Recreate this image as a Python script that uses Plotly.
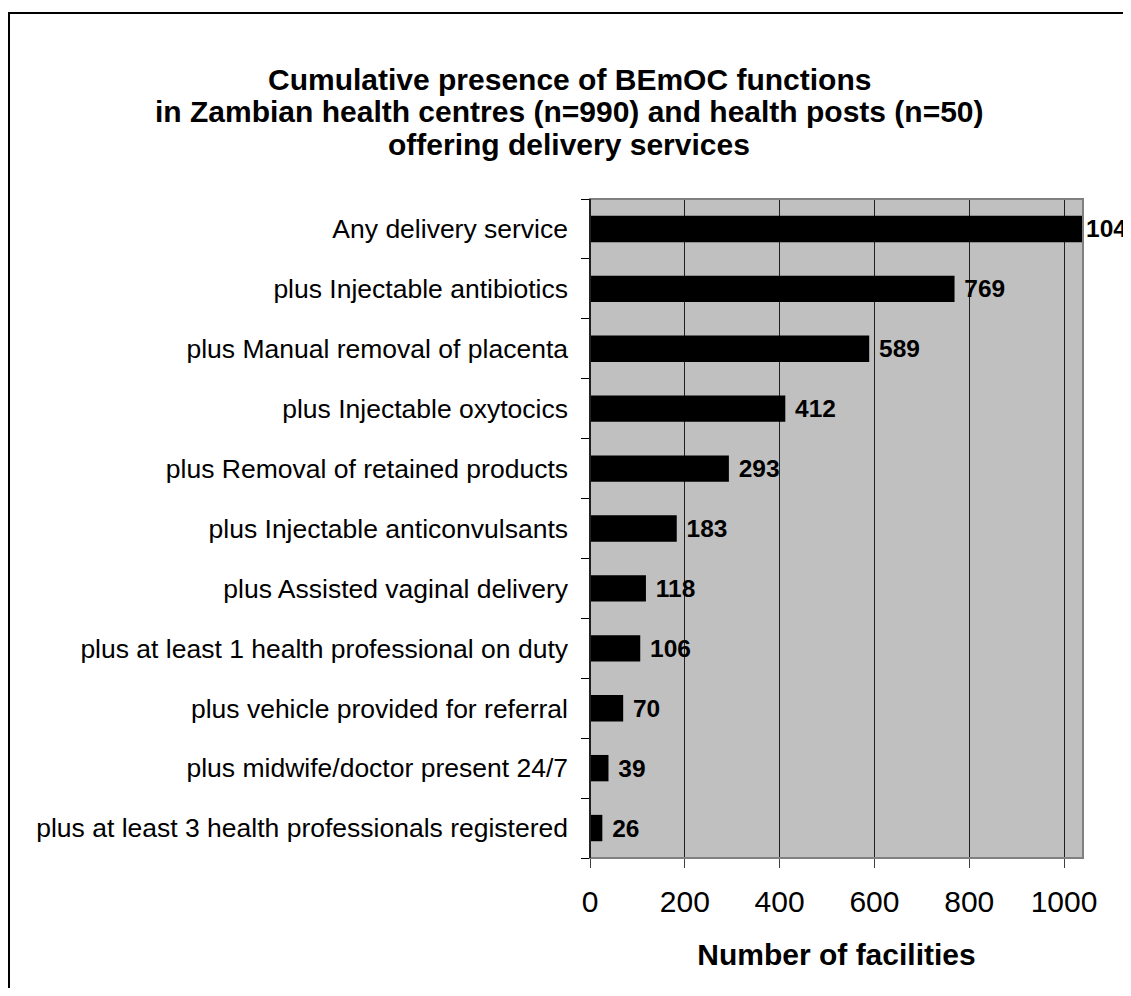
import plotly.graph_objects as go

# data (top to bottom)
functions = [
    "Any delivery service",
    "plus Injectable antibiotics",
    "plus Manual removal of placenta",
    "plus Injectable oxytocics",
    "plus Removal of retained products",
    "plus Injectable anticonvulsants",
    "plus Assisted vaginal delivery",
    "plus at least 1 health professional on duty",
    "plus vehicle provided for referral",
    "plus midwife/doctor present 24/7",
    "plus at least 3 health professionals registered",
]
facilities = [1040, 769, 589, 412, 293, 183, 118, 106, 70, 39, 26]
x_ticks = [0, 200, 400, 600, 800, 1000]
title_lines = [
    "Cumulative presence of BEmOC functions",
    "in Zambian health centres (n=990) and health posts (n=50)",
    "offering delivery services",
]

FONT = "Liberation Sans, Arial, sans-serif"

# page has an 8px body margin: shift everything by -8, keep the figure
# inside the window so no scrollbar eats into the right edge
W, H = 1123, 980
L, R, T, B = 582, 1075, 191, 850
pw, ph = R - L, B - T


def px_x(x):
    return (x - L) / pw


def px_y(y):
    return (B - y) / ph


# the top label sits right at the plot edge, the others get a small gap
labels = [f"<b>{v}</b>" if i == 0 else f"<b> {v}</b>"
          for i, v in enumerate(facilities)]

fig = go.Figure(
    go.Bar(
        x=facilities,
        y=functions,
        orientation="h",
        marker=dict(color="black", line=dict(width=0)),
        text=labels,
        textposition="outside",
        textfont=dict(family=FONT, size=24.5, color="black"),
        cliponaxis=False,
        constraintext="none",
        hoverinfo="skip",
    )
)

# outer frame (only top and left edges are inside the picture)
fig.add_shape(type="rect", xref="paper", yref="paper",
              x0=px_x(1), x1=3, y0=-3, y1=px_y(5),
              line=dict(color="black", width=2), layer="below")
# grey border round the plot area, black left axis line
fig.add_shape(type="rect", xref="paper", yref="paper",
              x0=0, x1=1, y0=0, y1=1,
              line=dict(color="#808080", width=2), layer="above")
fig.add_shape(type="line", xref="paper", yref="paper",
              x0=0, x1=0, y0=0, y1=1,
              line=dict(color="black", width=1.5), layer="above")

# title, one annotation per line
for i, line in enumerate(title_lines):
    fig.add_annotation(
        text=f"<b>{line}</b>",
        xref="paper", yref="paper",
        x=px_x(561), y=px_y(72 + 32 * i),
        xanchor="center", yanchor="middle",
        showarrow=False,
        font=dict(family=FONT, size=30, color="black"),
    )

fig.update_layout(
    width=W,
    height=H,
    margin=dict(l=L, r=W - R, t=T, b=H - B, pad=0),
    paper_bgcolor="white",
    plot_bgcolor="#C0C0C0",
    bargap=0.56,
    showlegend=False,
    font=dict(family=FONT, color="black"),
    xaxis=dict(
        range=[0, 1040],
        tickvals=x_ticks,
        ticks="outside",
        ticklen=9,
        tickcolor="#404040",
        tickfont=dict(family=FONT, size=30),
        ticklabelstandoff=8,
        showgrid=True,
        gridcolor="#202020",
        gridwidth=1,
        zeroline=False,
        showline=False,
        title=dict(text="<b>Number of facilities</b>",
                   font=dict(family=FONT, size=30), standoff=26),
    ),
    yaxis=dict(
        categoryorder="array",
        categoryarray=functions[::-1],
        tickson="boundaries",
        ticks="outside",
        ticklen=8,
        tickcolor="black",
        tickfont=dict(family=FONT, size=26.5),
        ticklabelstandoff=21,
        showgrid=False,
        zeroline=False,
        showline=False,
    ),
)

fig.write_html("out.html")
